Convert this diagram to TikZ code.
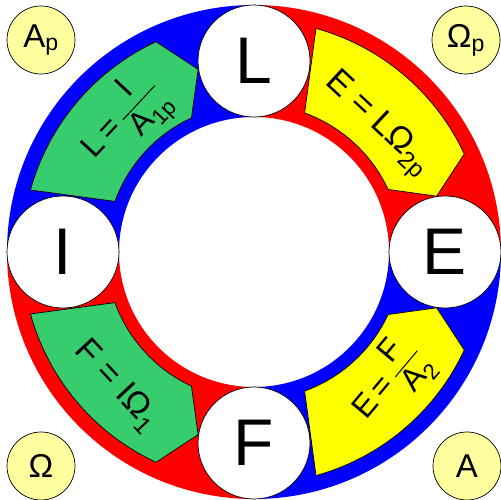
\documentclass[tikz,border=0pt]{standalone}
\usepackage{amsmath}
\usepackage{fontspec}
\setmainfont{Liberation Sans}
\usepackage{xcolor}
\usepackage{tikz}
\usetikzlibrary{positioning}

\definecolor{ringblue}{RGB}{0,0,255}
\definecolor{ringred}{RGB}{255,0,0}
\definecolor{panelgreen}{RGB}{55,204,108}
\definecolor{panelyellow}{RGB}{255,255,0}
\definecolor{paleyellow}{RGB}{255,255,160}

\begin{document}
\begin{tikzpicture}[
  x=1pt, y=1pt,
  letter/.style={draw, circle, fill=white, line width=0.7pt, minimum size=112pt, inner sep=0pt, font=\fontsize{66}{66}\selectfont},
  corner/.style={draw, circle, fill=paleyellow, line width=0.7pt, minimum size=68pt, inner sep=0pt, font=\fontsize{33}{33}\selectfont},
  panel/.style={draw, line width=0.7pt},
  formula/.style={inner sep=0pt, font=\fontsize{34}{34}\selectfont},
  fraction/.style={inner sep=0pt, font=\fontsize{32}{32}\selectfont}
]
\useasboundingbox (-254,-248) rectangle (247,252);

% ring quadrants
\fill[ringblue] (90:247pt) arc[start angle=90, end angle=180, radius=247pt] -- (180:135pt) arc[start angle=180, end angle=90, radius=135pt] -- cycle;
\fill[ringred] (0:247pt) arc[start angle=0, end angle=90, radius=247pt] -- (90:135pt) arc[start angle=90, end angle=0, radius=135pt] -- cycle;
\fill[ringblue] (270:247pt) arc[start angle=270, end angle=360, radius=247pt] -- (0:135pt) arc[start angle=360, end angle=270, radius=135pt] -- cycle;
\fill[ringred] (180:247pt) arc[start angle=180, end angle=270, radius=247pt] -- (270:135pt) arc[start angle=270, end angle=180, radius=135pt] -- cycle;

% panels
\filldraw[panel, fill=panelgreen] (164.5:232pt) arc[start angle=164.5, end angle=115, radius=232pt] -- (107:191pt) -- (115:148pt) arc[start angle=115, end angle=160, radius=148pt] -- cycle;
\filldraw[panel, fill=panelyellow] (74.5:232pt) arc[start angle=74.5, end angle=25, radius=232pt] -- (17:191pt) -- (25:148pt) arc[start angle=25, end angle=70, radius=148pt] -- cycle;
\filldraw[panel, fill=panelyellow] (285.5:232pt) arc[start angle=285.5, end angle=335, radius=232pt] -- (343:191pt) -- (335:148pt) arc[start angle=335, end angle=290, radius=148pt] -- cycle;
\filldraw[panel, fill=panelgreen] (195.5:232pt) arc[start angle=195.5, end angle=245, radius=232pt] -- (253:191pt) -- (245:148pt) arc[start angle=245, end angle=200, radius=148pt] -- cycle;

% formulas
\node[fraction, rotate=47] (fL) at (134.8:184pt) {L\,=\,$\dfrac{\text{I}}{\text{A}_{\text{1p}}}$};
\node[formula, rotate=-43] (fE1) at (45.9:177pt) {E = LΩ$_{\text{2p}}$};
\node[fraction, rotate=50] (fE2) at (-44:189pt) {E\,=\,$\dfrac{\text{F}}{\text{A}_{\text{2}}}$};
\node[formula, rotate=-47] (fF) at (224.2:192pt) {F = IΩ$_{\text{1}}$};

% vertices
\node[letter] (L) at (90:191pt) {L};
\node[letter] (E) at (0:191pt) {E};
\node[letter] (F) at (270:191pt) {F};
\node[letter] (I) at (180:191pt) {I};

% corners
\node[corner] (Ap) at (-213,212) {A\textsubscript{p}};
\node[corner] (Wp) at (212,212) {Ω\textsubscript{p}};
\node[corner] (W) at (-213,-214) {Ω};
\node[corner] (A) at (213,-214) {A};
\end{tikzpicture}
\end{document}
